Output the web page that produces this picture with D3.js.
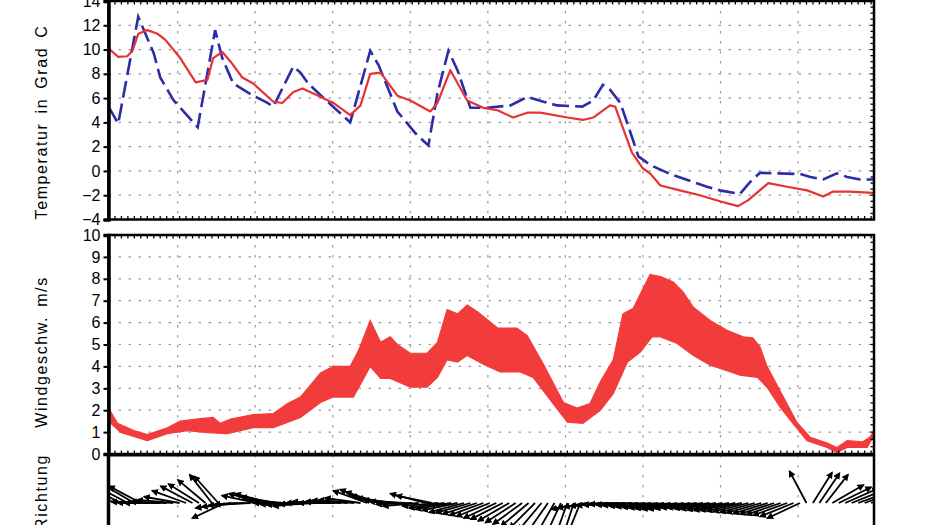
<!DOCTYPE html>
<html><head><meta charset="utf-8">
<script src="https://cdn.jsdelivr.net/npm/d3@7"></script>
<style>
body{margin:0;background:#fff}
svg{display:block}
text{font-family:"Liberation Sans",Arial,Helvetica,sans-serif;fill:#000}
</style>
</head><body>
<svg id="chart" width="930" height="525"></svg>
<script>
// ---------- data (hours from start) ----------
const redHours=[0,1.5,2.9,3.7,4.6,6.0,7.6,8.8,11.1,13.5,15.3,16.2,17.6,18.9,20.7,22.4,25.5,26.9,28.6,30.0,31.2,34.8,37.4,39.0,40.5,42.1,44.7,46.7,49.8,50.9,52.9,55.5,58.0,60.2,62.6,64.8,66.8,71.0,73.4,75.0,77.6,78.4,79.9,81.0,82.7,83.8,85.4,88.4,91.5,94.6,97.4,99.0,102.1,105.0,108.1,110.6,112.1,114.7,118.3];
const redTemp=[10.1,9.4,9.45,9.9,11.3,11.6,11.3,10.8,9.3,7.3,7.5,9.3,9.8,9.0,7.7,7.2,5.7,5.6,6.5,6.8,6.5,5.6,4.6,5.4,8.0,8.1,6.2,5.8,4.9,5.6,8.3,5.8,5.2,5.0,4.4,4.8,4.8,4.4,4.2,4.4,5.4,5.3,3.1,1.5,0.2,-0.2,-1.2,-1.6,-2.0,-2.5,-2.9,-2.4,-1.0,-1.3,-1.6,-2.1,-1.7,-1.7,-1.8];

const blueHours=[0,1.5,4.6,7.0,8.0,10.1,13.8,16.5,17.6,19.3,22.4,24.6,25.5,28.6,29.7,30.9,32.3,37.4,40.5,41.8,44.7,47.5,49.5,50.9,52.6,54.0,56.0,58.6,62.2,64.8,67.3,69.4,73.3,75.0,76.5,77.6,79.2,80.3,82.0,83.8,86.9,92.6,94.6,97.7,99.3,100.8,103.4,107.0,108.6,110.6,112.7,114.3,116.3,118.3];
const blueTemp=[5.3,3.9,12.7,9.7,7.7,5.8,3.6,11.6,9.3,7.2,6.2,5.6,5.3,8.6,8.1,7.2,6.5,4.0,9.9,8.7,4.9,3.1,2.1,6.4,9.9,8.3,5.2,5.2,5.4,6.1,5.7,5.4,5.3,5.8,7.1,6.7,5.6,3.9,1.2,0.5,-0.25,-1.3,-1.6,-1.9,-0.9,-0.15,-0.2,-0.25,-0.5,-0.7,-0.2,-0.5,-0.7,-0.7];

const windUpHours=[0,1.4,3.9,6.0,9.1,11.1,13.8,16.2,17.3,18.9,22.4,25.5,27.7,29.7,32.8,34.8,37.4,38.7,40.5,42.1,43.6,44.7,46.7,49.3,50.9,52.4,54.0,55.5,57.1,60.2,63.2,64.8,67.3,70.4,72.5,74.5,76.1,78.1,79.6,81.2,83.8,85.4,87.4,88.9,90.5,93.1,95.7,98.2,99.7,100.8,101.9,103.9,106.5,108.6,111.2,112.7,114.3,116.7,117.8,118.45];
const windUp=[2.1,1.4,1.07,0.89,1.2,1.5,1.6,1.67,1.4,1.6,1.8,1.85,2.3,2.6,3.7,4.0,4.0,4.74,6.1,5.1,5.35,5.0,4.6,4.6,5.1,6.6,6.4,6.8,6.5,5.75,5.75,5.4,4.1,2.35,2.1,2.3,3.3,4.3,6.4,6.65,8.2,8.1,7.85,7.4,6.7,6.1,5.65,5.35,5.3,4.9,4.0,2.9,1.45,0.76,0.5,0.3,0.61,0.56,0.76,1.07];

const windLoHours=[0,1.9,6.0,9.1,12.2,15.3,18.4,22.4,25.5,29.7,32.8,34.8,37.9,40.5,42.1,43.6,46.7,49.3,50.9,52.4,54.0,55.5,58.0,60.6,63.7,65.7,68.8,71.0,73.4,76.1,78.1,80.3,82.3,84.1,85.4,88.0,90.5,93.1,95.7,97.7,100.4,101.9,103.9,105.9,108.1,111.2,112.7,114.3,117.4,118.45];
const windLo=[1.5,0.98,0.61,0.93,1.07,0.98,0.93,1.2,1.2,1.67,2.35,2.6,2.6,4.0,3.45,3.45,3.05,3.05,3.5,4.3,4.2,4.5,4.1,3.75,3.75,3.5,2.3,1.45,1.4,2.0,2.75,4.2,4.65,5.35,5.35,5.05,4.5,4.05,3.8,3.6,3.5,3.05,2.15,1.4,0.61,0.3,0.06,0.3,0.3,0.84];

// wind direction arrows, one per hour (angle the arrow points, degrees counter-clockwise from east)
const dirDeg=[155,155,154,152,150,152,
178,180,180,178,175,
170,160,152,148,140,
128,132,205,
188,186,184,182,
168,165,165,170,175,
180,182,183,185,182,180,178,180,
178,176,175,172,
160,158,162,168,172,175,
178,182,185,165,168,
185,188,190,192,195,196,198,
200,202,205,207,210,213,216,220,225,230,235,240,245,250,252,248,
190,188,186,185,184,183,182,183,184,185,
186,187,188,189,190,190,189,188,188,189,190,191,192,192,193,194,195,196,197,198,199,
200,202,205,
118,58,56,
52,30,26,24,22,20,20,18];

const tempTicks=[-4,-2,0,2,4,6,8,10,12,14];
const windTicks=[0,1,2,3,4,5,6,7,8,9,10];
const gridHours=[10.7,22.7,34.7,46.7,58.7,70.7,82.7,94.7,106.7];
const hourDomain=[0,118.45];

// ---------- layout ----------
const svg=d3.select("#chart");
const L=108.5,R=874;
const x=d3.scaleLinear().domain(hourDomain).range([L,R]);
const yT=d3.scaleLinear().domain([-4,14]).range([219.5,1]);
const yW=d3.scaleLinear().domain([0,10]).range([454,235]);
const dirTop=455, dirBase=503, dirBottom=560;

const gridStyle=s=>s.attr("stroke","#9a9a9a").attr("stroke-width",1.2).attr("stroke-dasharray","2.5,7.5");

function panel(y, ticks, top, bottom){
  const g=svg.append("g");
  g.selectAll(null).data(ticks).join("line")
    .attr("x1",L).attr("x2",R).attr("y1",d=>y(d)).attr("y2",d=>y(d))
    .call(gridStyle);
  g.selectAll(null).data(gridHours).join("line")
    .attr("x1",d=>x(d)).attr("x2",d=>x(d)).attr("y1",top).attr("y2",bottom)
    .call(gridStyle);
  return g;
}
function frame(y, ticks, top, bottom, minorY){
  const g=svg.append("g");
  const hrs=d3.range(1,119);
  g.selectAll(null).data(hrs).join("line")
    .attr("x1",d=>x(d)).attr("x2",d=>x(d)).attr("y1",top).attr("y2",top+3.5)
    .attr("stroke","#000").attr("stroke-width",1.3);
  g.selectAll(null).data(hrs).join("line")
    .attr("x1",d=>x(d)).attr("x2",d=>x(d)).attr("y1",bottom).attr("y2",bottom-3.5)
    .attr("stroke","#000").attr("stroke-width",1.3);
  g.selectAll(null).data(minorY).join("line")
    .attr("x1",R).attr("x2",R-3.5).attr("y1",d=>y(d)).attr("y2",d=>y(d))
    .attr("stroke","#000").attr("stroke-width",1.3);
  g.append("rect").attr("x",L).attr("y",top).attr("width",R-L).attr("height",bottom-top)
    .attr("fill","none").attr("stroke","#000").attr("stroke-width",2.5);
  const ax=g.append("g").attr("transform",`translate(${L},0)`)
    .call(d3.axisLeft(y).tickValues(ticks).tickSize(5).tickPadding(3));
  ax.select(".domain").attr("stroke-width",3.5);
  ax.selectAll(".tick line").attr("stroke-width",2);
  ax.selectAll("text").attr("font-size",16).attr("font-family","'Liberation Sans',Arial,sans-serif");
  return g;
}

// ---------- temperature panel ----------
panel(yT,tempTicks,yT(14),yT(-4));
svg.append("clipPath").attr("id","clipT").append("rect")
  .attr("x",L).attr("y",yT(14)).attr("width",R-L).attr("height",yT(-4)-yT(14));
const lineT=d3.line().x(d=>x(d[0])).y(d=>yT(d[1]));
svg.append("path").datum(d3.zip(blueHours,blueTemp)).attr("d",lineT)
  .attr("fill","none").attr("stroke","#2c2ca6").attr("stroke-width",2.6)
  .attr("stroke-dasharray","17,6").attr("clip-path","url(#clipT)");
svg.append("path").datum(d3.zip(redHours,redTemp)).attr("d",lineT)
  .attr("fill","none").attr("stroke","#e63232").attr("stroke-width",2.2)
  .attr("stroke-linejoin","round").attr("clip-path","url(#clipT)");
frame(yT,tempTicks,yT(14),yT(-4),d3.range(-3.5,14,0.5));

// ---------- wind speed panel ----------
panel(yW,windTicks,yW(10),yW(0));
const bandPts=d3.zip(windUpHours,windUp).concat(d3.zip(windLoHours,windLo).reverse());
svg.append("path").datum(bandPts)
  .attr("d",d3.line().x(d=>x(d[0])).y(d=>yW(d[1])).curve(d3.curveLinearClosed))
  .attr("fill","#f23c3c").attr("stroke","#f23c3c").attr("stroke-width",1.2);
frame(yW,windTicks,yW(10),yW(0),d3.range(1/3,10,1/3));

// ---------- wind direction panel ----------
svg.append("g").selectAll(null).data(gridHours).join("line")
  .attr("x1",d=>x(d)).attr("x2",d=>x(d)).attr("y1",dirTop).attr("y2",dirBottom)
  .call(gridStyle);
svg.append("clipPath").attr("id","clipD").append("rect")
  .attr("x",L).attr("y",dirTop).attr("width",R-L).attr("height",dirBottom-dirTop);
const defs=svg.append("defs");
defs.append("marker").attr("id","ah").attr("viewBox","0 0 10 10").attr("refX",8).attr("refY",5)
  .attr("markerWidth",4).attr("markerHeight",4).attr("orient","auto")
  .append("path").attr("d","M0,0L10,5L0,10Z").attr("fill","#000");
const arrowLen=36;
const gD=svg.append("g").attr("clip-path","url(#clipD)");
gD.selectAll(null).data(dirDeg.map((a,i)=>({h:i,a}))).join("line")
  .attr("x1",d=>x(d.h)).attr("y1",dirBase)
  .attr("x2",d=>x(d.h)+arrowLen*Math.cos(d.a*Math.PI/180))
  .attr("y2",d=>dirBase-arrowLen*Math.sin(d.a*Math.PI/180))
  .attr("stroke","#000").attr("stroke-width",1.8).attr("marker-end","url(#ah)");
svg.append("line").attr("x1",L).attr("x2",R).attr("y1",dirTop).attr("y2",dirTop)
  .attr("stroke","#000").attr("stroke-width",3);
svg.append("line").attr("x1",L).attr("x2",L).attr("y1",dirTop).attr("y2",dirBottom)
  .attr("stroke","#000").attr("stroke-width",3.5);
svg.append("line").attr("x1",R).attr("x2",R).attr("y1",dirTop).attr("y2",dirBottom)
  .attr("stroke","#000").attr("stroke-width",2.5);

// ---------- axis titles ----------
function vtitle(txt,cx,cy,anchor){
  svg.append("text").attr("transform",`translate(${cx},${cy}) rotate(-90)`)
    .attr("text-anchor",anchor).attr("font-size",16).attr("letter-spacing",1.6)
    .attr("word-spacing",3).text(txt);
}
vtitle("Temperatur in Grad C",47,122,"middle");
vtitle("Windgeschw. m/s",47,352,"middle");
vtitle("Richtung",47,454,"end");
</script>
</body></html>
